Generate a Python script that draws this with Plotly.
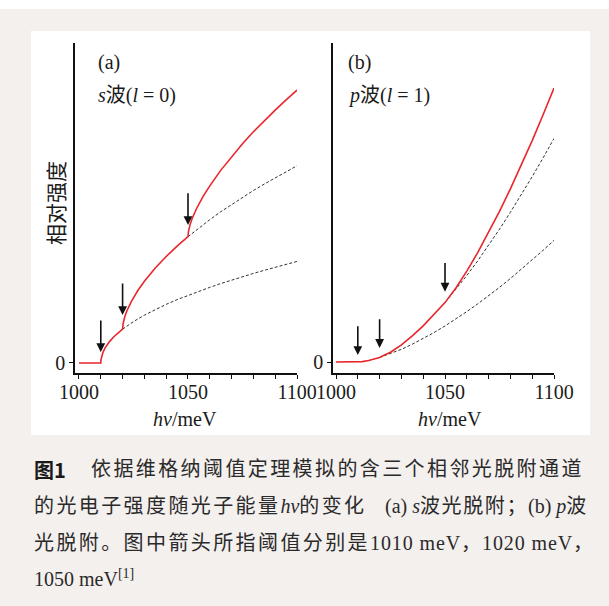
import plotly.graph_objects as go

W, H = 609, 606

# ---------------- data: panel (a) s-wave ----------------
a_total_x = [1000, 1010, 1010.1, 1010.5, 1011, 1012, 1014, 1016, 1018, 1020, 1020.2, 1020.6, 1021, 1022, 1024,
             1027, 1030, 1035, 1040, 1045, 1050, 1050.2, 1050.6, 1051, 1052, 1054, 1057, 1060, 1065,
             1070, 1075, 1080, 1085, 1090, 1095, 1100]
a_total_y = [0, 0, 0.32, 0.71, 1.00, 1.41, 2.00, 2.45, 2.83, 3.16, 3.64, 4.03, 4.32, 4.88, 5.74,
             6.77, 7.63, 8.87, 9.95, 10.92, 11.80, 12.25, 12.62, 12.97, 13.55, 14.46, 15.59, 16.55, 18.00,
             19.29, 20.48, 21.60, 22.64, 23.63, 24.59, 25.50]
a_ch1_x = [1020, 1025, 1030, 1035, 1040, 1045, 1050, 1055, 1060, 1065, 1070, 1075, 1080, 1085, 1090, 1095, 1100]
a_ch1_y = [3.16, 3.87, 4.47, 5.00, 5.48, 5.92, 6.32, 6.71, 7.07, 7.42, 7.75, 8.06, 8.37, 8.66, 8.94, 9.22, 9.49]
a_ch12_x = [1050, 1055, 1060, 1065, 1070, 1075, 1080, 1085, 1090, 1095, 1100]
a_ch12_y = [11.80, 12.63, 13.39, 14.13, 14.82, 15.48, 16.12, 16.72, 17.31, 17.88, 18.43]
a_arrow_x = [1010, 1020, 1050]
a_arrow_tip = [1.03, 4.49, 12.9]
a_arrow_tail = [4.1, 7.57, 16.0]

# ---------------- data: panel (b) p-wave ----------------
b_total_x = [1000, 1010, 1012, 1015, 1018, 1020, 1022, 1025, 1030, 1035, 1040, 1045, 1050, 1055, 1060,
             1065, 1070, 1075, 1080, 1085, 1090, 1095, 1100]
b_total_y = [0, 0, 0.03, 0.11, 0.23, 0.32, 0.47, 0.69, 1.21, 1.83, 2.54, 3.32, 4.17, 5.20, 6.38,
             7.68, 9.08, 10.57, 12.15, 13.81, 15.54, 17.35, 19.23]
b_ch1_x = [1020, 1025, 1030, 1035, 1040, 1045, 1050, 1055, 1060, 1065, 1070, 1075, 1080, 1085, 1090, 1095, 1100]
b_ch1_y = [0.32, 0.58, 0.89, 1.25, 1.64, 2.07, 2.53, 3.02, 3.54, 4.08, 4.65, 5.24, 5.86, 6.50, 7.16, 7.84, 8.54]
b_ch12_x = [1050, 1055, 1060, 1065, 1070, 1075, 1080, 1085, 1090, 1095, 1100]
b_ch12_y = [4.17, 5.09, 6.07, 7.10, 8.18, 9.32, 10.51, 11.74, 13.01, 14.33, 15.69]
b_arrow_x = [1010, 1020, 1050]
b_arrow_tip = [0.49, 0.99, 4.94]
b_arrow_tail = [2.61, 3.11, 7.06]

tick_vals = list(range(1000, 1101, 10))
tick_text = ["1000" if v == 1000 else "1050" if v == 1050 else "1100" if v == 1100 else "" for v in tick_vals]

SERIF = "Liberation Serif, Noto Sans CJK SC"
RED = "#e8262c"
INK = "#1a1a1a"


def px(x):
    return x / W


def py(y):
    return 1 - y / H


fig = go.Figure()

for xs, ys, xa, ya in [(a_ch1_x, a_ch1_y, "x", "y"), (a_ch12_x, a_ch12_y, "x", "y"),
                       (b_ch1_x, b_ch1_y, "x2", "y2"), (b_ch12_x, b_ch12_y, "x2", "y2")]:
    fig.add_trace(go.Scatter(x=xs, y=ys, xaxis=xa, yaxis=ya, mode="lines",
                             line=dict(color="#333333", width=1, dash="3px,2px"),
                             showlegend=False, hoverinfo="skip"))
for xs, ys, xa, ya in [(a_total_x, a_total_y, "x", "y"), (b_total_x, b_total_y, "x2", "y2")]:
    fig.add_trace(go.Scatter(x=xs, y=ys, xaxis=xa, yaxis=ya, mode="lines",
                             line=dict(color=RED, width=1.6),
                             showlegend=False, hoverinfo="skip"))

annotations = []
for xs, tips, tails, xr, yr in [(a_arrow_x, a_arrow_tip, a_arrow_tail, "x", "y"),
                                (b_arrow_x, b_arrow_tip, b_arrow_tail, "x2", "y2")]:
    for xv, tp, tl in zip(xs, tips, tails):
        annotations.append(dict(x=xv, y=tp, ax=xv, ay=tl, xref=xr, yref=yr, axref=xr, ayref=yr,
                                text="", showarrow=True, arrowhead=2, arrowsize=1.1,
                                arrowwidth=1.6, arrowcolor="#111111"))


def label(text, x, y, size=20, xanchor="left", angle=0, family=SERIF, color=INK):
    annotations.append(dict(text=text, x=px(x), y=py(y), xref="paper", yref="paper",
                            showarrow=False, xanchor=xanchor, yanchor="middle", textangle=angle,
                            font=dict(family=family, size=size, color=color)))


def sp(t, s=2.4):
    return '<span style="letter-spacing:%.1fpx">%s</span>' % (s, t)


label("(a)", 96, 62)
label("<i>s</i>波(<i>l</i> = 0)", 96, 95)
label("(b)", 346, 62)
label("<i>p</i>波(<i>l</i> = 1)", 346, 95)
label("<i>hν</i>/meV", 185, 419, xanchor="center")
label("<i>hν</i>/meV", 450, 419, xanchor="center")
label("相对强度", 55, 203, size=21, xanchor="center", angle=-90, family="Noto Sans CJK SC")

CAP = "#2a2a2a"
label("<b>图1</b>", 32, 469, size=20, color="#1a1a1a", family="Noto Sans CJK SC")
label(sp("依据维格纳阈值定理模拟的含三个相邻光脱附通道"), 89, 469, size=20, color=CAP)
label(sp("的光电子强度随光子能量") + "<i>hν</i>" + sp("的变化"), 32, 506, size=20, color=CAP)
label("(a) <i>s</i>" + sp("波光脱附；", 1.6) + "(b) <i>p</i>波", 588, 506, size=20, color=CAP, xanchor="right")
label(sp("光脱附。图中箭头所指阈值分别是") + sp("1010 meV，1020 meV，", 0.9), 32, 543, size=20, color=CAP)
label("1050 meV<sup>[1]</sup>", 32, 578, size=20, color=CAP)

shapes = [
    dict(type="rect", xref="paper", yref="paper", x0=0, x1=1, y0=0, y1=py(9),
         fillcolor="#f4f0ee", line=dict(width=0), layer="below"),
    dict(type="rect", xref="paper", yref="paper", x0=px(31), x1=px(590), y0=py(435), y1=py(31),
         fillcolor="#ffffff", line=dict(width=0), layer="below"),
]

axis_common = dict(showgrid=False, zeroline=False, showline=True, linecolor="#111111", linewidth=1.5,
                   ticks="outside", ticklen=4, tickwidth=1.2, tickcolor="#111111",
                   tickfont=dict(family=SERIF, size=20, color=INK), automargin=False, fixedrange=True)

fig.update_layout(
    width=W, height=H, margin=dict(l=0, r=0, t=0, b=0),
    paper_bgcolor="#ffffff", plot_bgcolor="rgba(0,0,0,0)",
    showlegend=False,
    xaxis=dict(domain=[px(75), px(297)], range=[998.17, 1100], tickvals=tick_vals, ticktext=tick_text,
               anchor="y", ticklabelstandoff=-4, **axis_common),
    yaxis=dict(domain=[py(373), py(43)], range=[-0.935, 29.9], tickvals=[0], ticktext=["0"],
               anchor="x", **axis_common),
    xaxis2=dict(domain=[px(333), px(554)], range=[998.62, 1100], tickvals=tick_vals, ticktext=tick_text,
                anchor="y2", ticklabelstandoff=-4, **axis_common),
    yaxis2=dict(domain=[py(373), py(43)], range=[-0.77, 22.39], tickvals=[0], ticktext=["0"],
                anchor="x2", **axis_common),
    annotations=annotations,
    shapes=shapes,
)

fig.write_html("out.html")
